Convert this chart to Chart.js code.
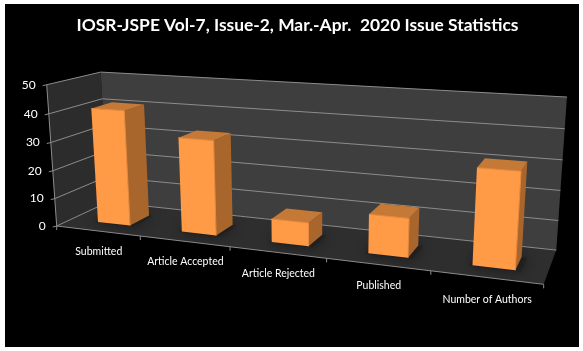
<!DOCTYPE html>
<html><head><meta charset="utf-8">
<style>html,body{margin:0;padding:0;background:#fff}canvas{display:block}</style>
<script src="https://cdn.jsdelivr.net/npm/chart.js@4"></script></head>
<body><canvas id="c" width="583" height="351"></canvas>
<script>
const titleText = "IOSR-JSPE Vol-7, Issue-2, Mar.-Apr.  2020 Issue Statistics";
const categories = ["Submitted","Article Accepted","Article Rejected","Published","Number of Authors"];
const issueValues = [41,33,8,13,31];
const valueTicks = [0,10,20,30,40,50];

// Camera of the 3-D box: u along categories, v along values, d into the depth.
const cam = {x:[56.7,394,-11.77,61.1], y:[226,9.7,-144.5,-5.6], h:[1,-0.171,-0.038,0.091]};
function P(u,v,d){
  const f=a=>a[0]+a[1]*u+a[2]*v+a[3]*d;
  const h=f(cam.h); return [f(cam.x)/h,f(cam.y)/h];
}
const DEPTH0=0.28, DEPTH1=0.68, BAR_NUDGE=0.004;
let area=null;
function poly(ctx,pts,fill){
  ctx.beginPath(); pts.forEach((p,i)=>i?ctx.lineTo(p[0],p[1]):ctx.moveTo(p[0],p[1])); ctx.closePath();
  if(fill){ctx.fillStyle=fill;ctx.fill();}
}
function line(ctx,a,b,col,w){ctx.strokeStyle=col;ctx.lineWidth=w||1;ctx.beginPath();ctx.moveTo(a[0],a[1]);ctx.lineTo(b[0],b[1]);ctx.stroke();}

const BarEl = Chart.registry.getElement('bar');
BarEl.prototype.draw = function(ctx){
  const ca=area;
  const u0=(this.x-this.width/2-ca.left)/ca.width+BAR_NUDGE, u1=(this.x+this.width/2-ca.left)/ca.width+BAR_NUDGE;
  const v=(ca.bottom-this.y)/ca.height;
  const d0=DEPTH0,d1=DEPTH1;
  ctx.save();
  // soft shadow on the floor
  ctx.save();
  ctx.shadowColor='rgba(0,0,0,0.8)';ctx.shadowBlur=12;
  poly(ctx,[P(u0-0.006,0,d0-0.02),P(u1+0.01,0,d0-0.02),P(u1+0.01,0,d1),P(u0-0.006,0,d1)],'rgba(30,30,30,0.55)');
  ctx.restore();
  const fbl=P(u0,0,d0),fbr=P(u1,0,d0),ftl=P(u0,v,d0),ftr=P(u1,v,d0),
        bbr=P(u1,0,d1),btl=P(u0,v,d1),btr=P(u1,v,d1);
  poly(ctx,[fbr,bbr,btr,ftr],'#A9662C');
  poly(ctx,[ftl,ftr,btr,btl],'#C47A36');
  poly(ctx,[fbl,fbr,ftr,ftl],'#FF9A46');
  line(ctx,ftl,ftr,'#E98B3E',1);
  line(ctx,ftr,fbr,'#E98B3E',1);
  ctx.restore();
};

const box3d={
  id:'box3d',
  beforeDraw(chart){
    const ctx=chart.ctx;
    ctx.save();
    ctx.fillStyle='#fff';ctx.fillRect(0,0,583,351);
    ctx.fillStyle='#000';ctx.fillRect(5,4,574,343);
    ctx.restore();
  },
  beforeDatasetsDraw(chart){
    const ctx=chart.ctx, ys=chart.scales.y, ca=chart.chartArea;
    area=ca;
    ctx.save();
    poly(ctx,[P(0,0,0),P(0,1,0),P(0,1,1),P(0,0,1)],'#2C2C2C');
    poly(ctx,[P(0,0,1),P(0,1,1),P(1,1,1),P(1,0,1)],'#3E3E3E');
    poly(ctx,[P(0,0,0),P(0,0,1),P(1,0,1),P(1,0,0)],'#2E2E2E');
    const G='#8C8C8C';
    valueTicks.forEach(t=>{
      const v=(ca.bottom-ys.getPixelForValue(t))/ca.height;
      line(ctx,P(0,v,0),P(0,v,1),G);
      line(ctx,P(0,v,1),P(1,v,1),G);
      const a=P(0,v,0); line(ctx,[a[0]-4,a[1]+1],a,G);
    });
    line(ctx,P(0,0,0),P(0,1,0),G);
    line(ctx,P(0,0,0),P(1,0,0),G);
    for(let i=0;i<=categories.length;i++){
      const u=i/categories.length, a=P(u,0,0);
      line(ctx,a,[a[0],a[1]+4],G);
    }
    ctx.restore();
  },
  afterDatasetsDraw(chart){
    const ctx=chart.ctx, ys=chart.scales.y, xs=chart.scales.x, ca=chart.chartArea;
    ctx.save();
    ctx.fillStyle='#fff';
    ctx.font='12px Lato';
    ctx.textBaseline='middle';
    ctx.textAlign='right';
    valueTicks.forEach(t=>{
      const v=(ca.bottom-ys.getPixelForValue(t))/ca.height, a=P(0,v,0);
      ctx.fillText(String(t),a[0]-11,a[1]);
    });
    ctx.font='10.5px Lato';
    ctx.textAlign='center';
    categories.forEach((c,i)=>{
      const u=(xs.getPixelForValue(i)-ca.left)/ca.width, a=P(u,0,0);
      ctx.fillText(c,a[0]+1,a[1]+20+u*2);
    });
    ctx.restore();
  }
};

new Chart(document.getElementById('c'),{
  type:'bar',
  data:{labels:categories,datasets:[{label:'Issue',data:issueValues,backgroundColor:'#FF9A46',barPercentage:0.39,categoryPercentage:1}]},
  options:{
    responsive:false,animation:false,
    layout:{padding:{left:12,right:0,top:15,bottom:60}},
    plugins:{legend:{display:false},tooltip:{enabled:false},
      title:{display:true,text:titleText,color:'#fff',font:{family:'Lato',weight:'bold',size:17.4},padding:{top:0,bottom:20}}},
    scales:{
      x:{display:true,grid:{display:false},border:{display:false},ticks:{display:false}},
      y:{display:true,min:0,max:50,grid:{display:false},border:{display:false},ticks:{display:false,stepSize:10}}
    }
  },
  plugins:[box3d]
});
</script></body></html>
